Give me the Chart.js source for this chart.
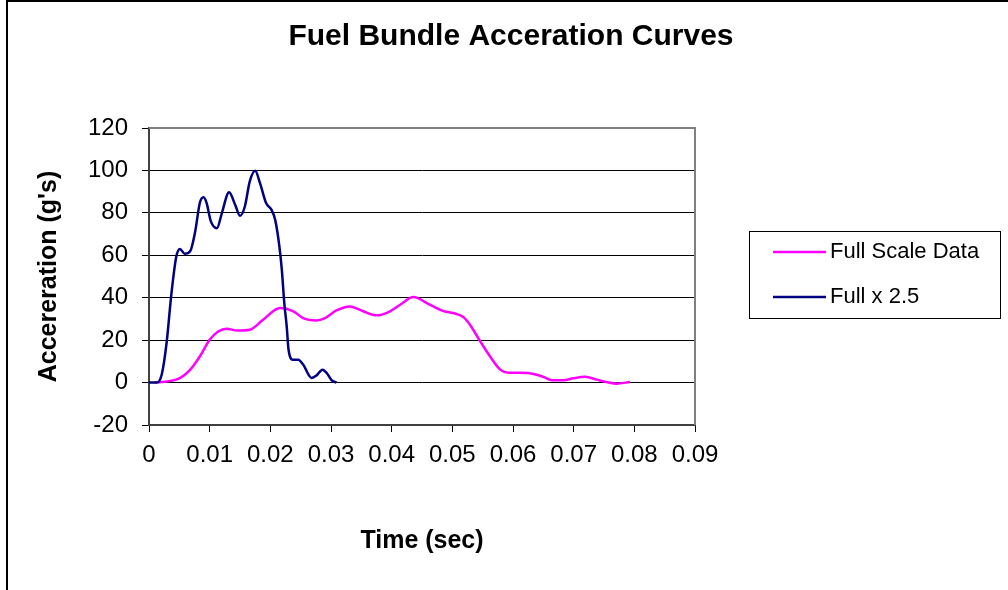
<!DOCTYPE html>
<html>
<head>
<meta charset="utf-8">
<script src="https://cdn.jsdelivr.net/npm/chart.js@4.4.0/dist/chart.umd.min.js"></script>
<style>
  html, body { margin: 0; padding: 0; background: #fff; }
</style>
</head>
<body>
<canvas id="chart" width="1008" height="590"></canvas>
<script>
// values
const chartTitle = 'Fuel Bundle Acceration Curves';
const seriesNames = ['Full Scale Data', 'Full x 2.5'];
const seriesColors = ['#ff00ff', '#000080'];

const fullTime = [0.0010, 0.0048, 0.0068, 0.0084, 0.0100, 0.0114, 0.0128, 0.0145, 0.0166, 0.0188,
  0.0216, 0.0238, 0.0254, 0.0276, 0.0290, 0.0309, 0.0331, 0.0353, 0.0375, 0.0394,
  0.0414, 0.0436, 0.0458, 0.0482, 0.0518, 0.0529, 0.0546, 0.0562, 0.0579, 0.0590,
  0.0623, 0.0650, 0.0664, 0.0683, 0.0699, 0.0719, 0.0738, 0.0754, 0.0771, 0.0793];
const fullAccel = [0, 1.7, 6.1, 12.4, 20.2, 24.1, 25.4, 24.5, 24.9, 29.6,
  35.1, 33.6, 30.4, 29.3, 30.4, 34.0, 35.9, 33.6, 31.7, 33.1,
  36.7, 40.3, 37.5, 34.0, 30.9, 27.3, 19.4, 12.4, 6.1, 4.8,
  4.5, 2.7, 1.1, 1.1, 2.0, 2.7, 1.4, 0.3, -0.5, 0.3];

const scaledTime = [0, 0.0013, 0.0021, 0.0029, 0.0037, 0.0045, 0.0051, 0.0059, 0.0068, 0.0076,
  0.0084, 0.0090, 0.0095, 0.0102, 0.0112, 0.0120, 0.0132, 0.0142, 0.0150, 0.0158,
  0.0166, 0.0175, 0.0183, 0.0193, 0.0202, 0.0208, 0.0215, 0.0219, 0.0223, 0.0227,
  0.0230, 0.0237, 0.0246, 0.0254, 0.0268, 0.0276, 0.0286, 0.0293, 0.0301, 0.0309];
const scaledAccel = [0, 0, 3.8, 18.7, 42.0, 59.4, 63.0, 60.7, 62.0, 71.0,
  85.0, 87.4, 84.6, 76.0, 72.8, 79.8, 89.7, 83.8, 78.6, 83.0,
  94.7, 99.8, 94.0, 84.6, 81.4, 76.7, 64.0, 53.0, 37.5, 26.5,
  15.5, 10.8, 10.8, 8.5, 2.2, 3.3, 6.1, 4.5, 1.1, 0];

const xTicks = [0, 0.01, 0.02, 0.03, 0.04, 0.05, 0.06, 0.07, 0.08, 0.09];
const yTicks = [-20, 0, 20, 40, 60, 80, 100, 120];

const FONT = 'Arial, "Liberation Sans", sans-serif';

function toPoints(xs, ys) {
  return xs.map((x, i) => ({ x: x, y: ys[i] }));
}

// frame: outer chart border, title, grey plot border, boxed legend
const framePlugin = {
  id: 'frame',
  beforeDraw(chart) {
    const ctx = chart.ctx;
    ctx.save();
    ctx.fillStyle = '#fff';
    ctx.fillRect(0, 0, chart.width, chart.height);
    ctx.strokeStyle = '#000';
    ctx.lineWidth = 2;
    ctx.beginPath();
    ctx.moveTo(7, chart.height);
    ctx.lineTo(7, 1);
    ctx.lineTo(chart.width, 1);
    ctx.stroke();

    ctx.fillStyle = '#000';
    ctx.font = 'bold 30px ' + FONT;
    ctx.textAlign = 'center';
    ctx.textBaseline = 'middle';
    ctx.fillText(chartTitle, 511, 37);
    ctx.restore();
  },
  afterDraw(chart) {
    const ctx = chart.ctx;
    const a = chart.chartArea;
    ctx.save();
    ctx.strokeStyle = '#808080';
    ctx.lineWidth = 2;
    ctx.beginPath();
    ctx.moveTo(a.left, a.top);
    ctx.lineTo(a.right, a.top);
    ctx.lineTo(a.right, a.bottom);
    ctx.stroke();

    // legend
    ctx.strokeStyle = '#000';
    ctx.lineWidth = 1;
    ctx.strokeRect(749.5, 231.5, 251, 87);
    ctx.font = '22px ' + FONT;
    ctx.fillStyle = '#000';
    ctx.textBaseline = 'middle';
    ctx.textAlign = 'left';
    chart.data.datasets.forEach((ds, i) => {
      const y = 252 + i * 45;
      ctx.strokeStyle = ds.borderColor;
      ctx.lineWidth = 2.5;
      ctx.beginPath();
      ctx.moveTo(773, y);
      ctx.lineTo(826, y);
      ctx.stroke();
      ctx.fillText(ds.label, 830, y);
    });
    ctx.restore();
  }
};

new Chart(document.getElementById('chart'), {
  type: 'line',
  data: {
    datasets: [
      {
        label: seriesNames[0],
        data: toPoints(fullTime, fullAccel),
        borderColor: seriesColors[0],
        borderWidth: 2.5,
        pointRadius: 0,
        cubicInterpolationMode: 'monotone',
        order: 1
      },
      {
        label: seriesNames[1],
        data: toPoints(scaledTime, scaledAccel),
        borderColor: seriesColors[1],
        borderWidth: 2.5,
        pointRadius: 0,
        cubicInterpolationMode: 'monotone',
        order: 0
      }
    ]
  },
  options: {
    responsive: false,
    animation: false,
    layout: { padding: { left: 0, right: 313, top: 128, bottom: 0 } },
    plugins: {
      legend: { display: false },
      tooltip: { enabled: false },
      title: { display: false }
    },
    scales: {
      x: {
        type: 'linear',
        min: xTicks[0],
        max: xTicks[xTicks.length - 1],
        afterBuildTicks(scale) { scale.ticks = xTicks.map(v => ({ value: v })); },
        afterFit(scale) { scale.height = 165; },
        ticks: {
          color: '#000',
          padding: 9,
          maxRotation: 0,
          autoSkip: false,
          font: { family: FONT, size: 24 },
          callback: v => (v === 0 ? '0' : v.toFixed(2))
        },
        grid: { drawOnChartArea: false, tickColor: '#000', tickLength: 7 },
        border: { color: '#404040', width: 2 },
        title: {
          display: true,
          text: 'Time (sec)',
          color: '#000',
          font: { family: FONT, size: 25, weight: 'bold' },
          padding: { top: 0, bottom: 34 }
        }
      },
      y: {
        min: yTicks[0],
        max: yTicks[yTicks.length - 1],
        afterBuildTicks(scale) { scale.ticks = yTicks.map(v => ({ value: v })); },
        afterFit(scale) { scale.width = 149; },
        ticks: {
          color: '#000',
          padding: 14,
          font: { family: FONT, size: 24 }
        },
        grid: { color: '#000', lineWidth: 1, tickColor: '#000', tickLength: 7 },
        border: { color: '#404040', width: 2 },
        title: {
          display: true,
          text: "Accereration (g's)",
          color: '#000',
          font: { family: FONT, size: 25, weight: 'bold' },
          padding: { top: 34, bottom: 0 }
        }
      }
    }
  },
  plugins: [framePlugin]
});
</script>
</body>
</html>
